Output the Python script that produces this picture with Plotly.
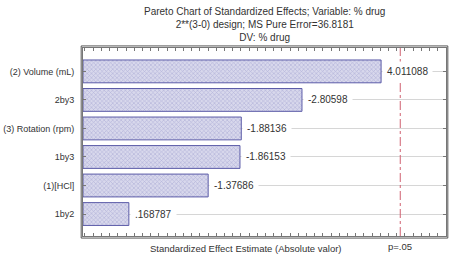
import plotly.graph_objects as go

# ---- data ----
factors = ["(2) Volume (mL)", "2by3", "(3) Rotation (rpm)", "1by3", "(1)[HCl]", "1by2"]
effects = [4.011088, -2.80598, -1.88136, -1.86153, -1.37686, 0.168787]
p_crit = 4.303
p_label = "p=.05"
title_lines = ["Pareto Chart of Standardized Effects; Variable: % drug",
               "2**(3-0) design; MS Pure Error=36.8181",
               "DV: % drug"]
x_title = "Standardized Effect Estimate (Absolute valor)"

XMIN, XMAX = -0.53, 5.0
FONT = "Liberation Sans, Arial, sans-serif"


def fmt(v):
    s = f"{v:.7g}"
    s = s.replace("-0.", "-.")
    if s.startswith("0."):
        s = s[1:]
    return s


absvals = [abs(v) for v in effects]

fig = go.Figure()
fig.add_trace(go.Bar(
    orientation="h",
    y=factors,
    x=[a - XMIN for a in absvals],
    base=XMIN,
    width=0.8,
    marker=dict(color="#d4d4ea",
                line=dict(color="#5c5ca8", width=1),
                pattern=dict(shape="x", fgcolor="#8a8ac4", bgcolor="#d8d8ec", size=3, solidity=0.35)),
    hoverinfo="skip",
    showlegend=False,
))

annotations = []
for f, a, v in zip(factors, absvals, effects):
    annotations.append(dict(x=a, y=f, xref="x", yref="y", text=fmt(v), showarrow=False,
                            xanchor="left", xshift=1, bgcolor="white", borderpad=4,
                            font=dict(family=FONT, size=10, color="#333333")))

annotations.append(dict(x=0.5, y=1, xref="paper", yref="paper", yanchor="bottom", yshift=3,
                        text="<br>".join(title_lines), showarrow=False,
                        font=dict(family=FONT, size=10, color="#333333")))
annotations.append(dict(x=0.45, y=0, xref="paper", yref="paper", yanchor="middle", yshift=-12,
                        text=x_title, showarrow=False,
                        font=dict(family=FONT, size=9.5, color="#333333")))
annotations.append(dict(x=p_crit, y=0, xref="x", yref="paper", yanchor="middle", yshift=-10,
                        text=p_label, showarrow=False,
                        font=dict(family=FONT, size=9.5, color="#333333")))

shapes = [
    dict(type="line", x0=p_crit, x1=p_crit, y0=0, y1=1, xref="x", yref="paper",
         line=dict(color="#d06070", width=1, dash="dashdot")),
    dict(type="rect", x0=-0.005, x1=1.005, y0=-0.011, y1=1.011, xref="paper", yref="paper",
         line=dict(color="#555555", width=1)),
]

fig.update_layout(
    width=452, height=254,
    margin=dict(l=83, r=6, t=48, b=18),
    paper_bgcolor="white", plot_bgcolor="white",
    font=dict(family=FONT, size=10, color="#333333"),
    annotations=annotations,
    shapes=shapes,
    bargap=0.2,
)
fig.update_xaxes(range=[XMIN, XMAX], showticklabels=False, showgrid=False, zeroline=False,
                 ticks="inside", ticklen=3, dtick=0.125, tickcolor="#777777",
                 showline=True, linecolor="#777777", linewidth=1, mirror="allticks",
                 automargin=False)
fig.update_yaxes(autorange=False, range=[5.77, -0.82], showgrid=True, gridcolor="#d6d6d6",
                 gridwidth=1, ticks="inside", ticklen=3, tickcolor="#777777",
                 showline=True, linecolor="#777777", linewidth=1, mirror="allticks",
                 ticklabelstandoff=6, automargin=False,
                 tickfont=dict(family=FONT, size=9, color="#333333"))

fig.write_html("out.html")
